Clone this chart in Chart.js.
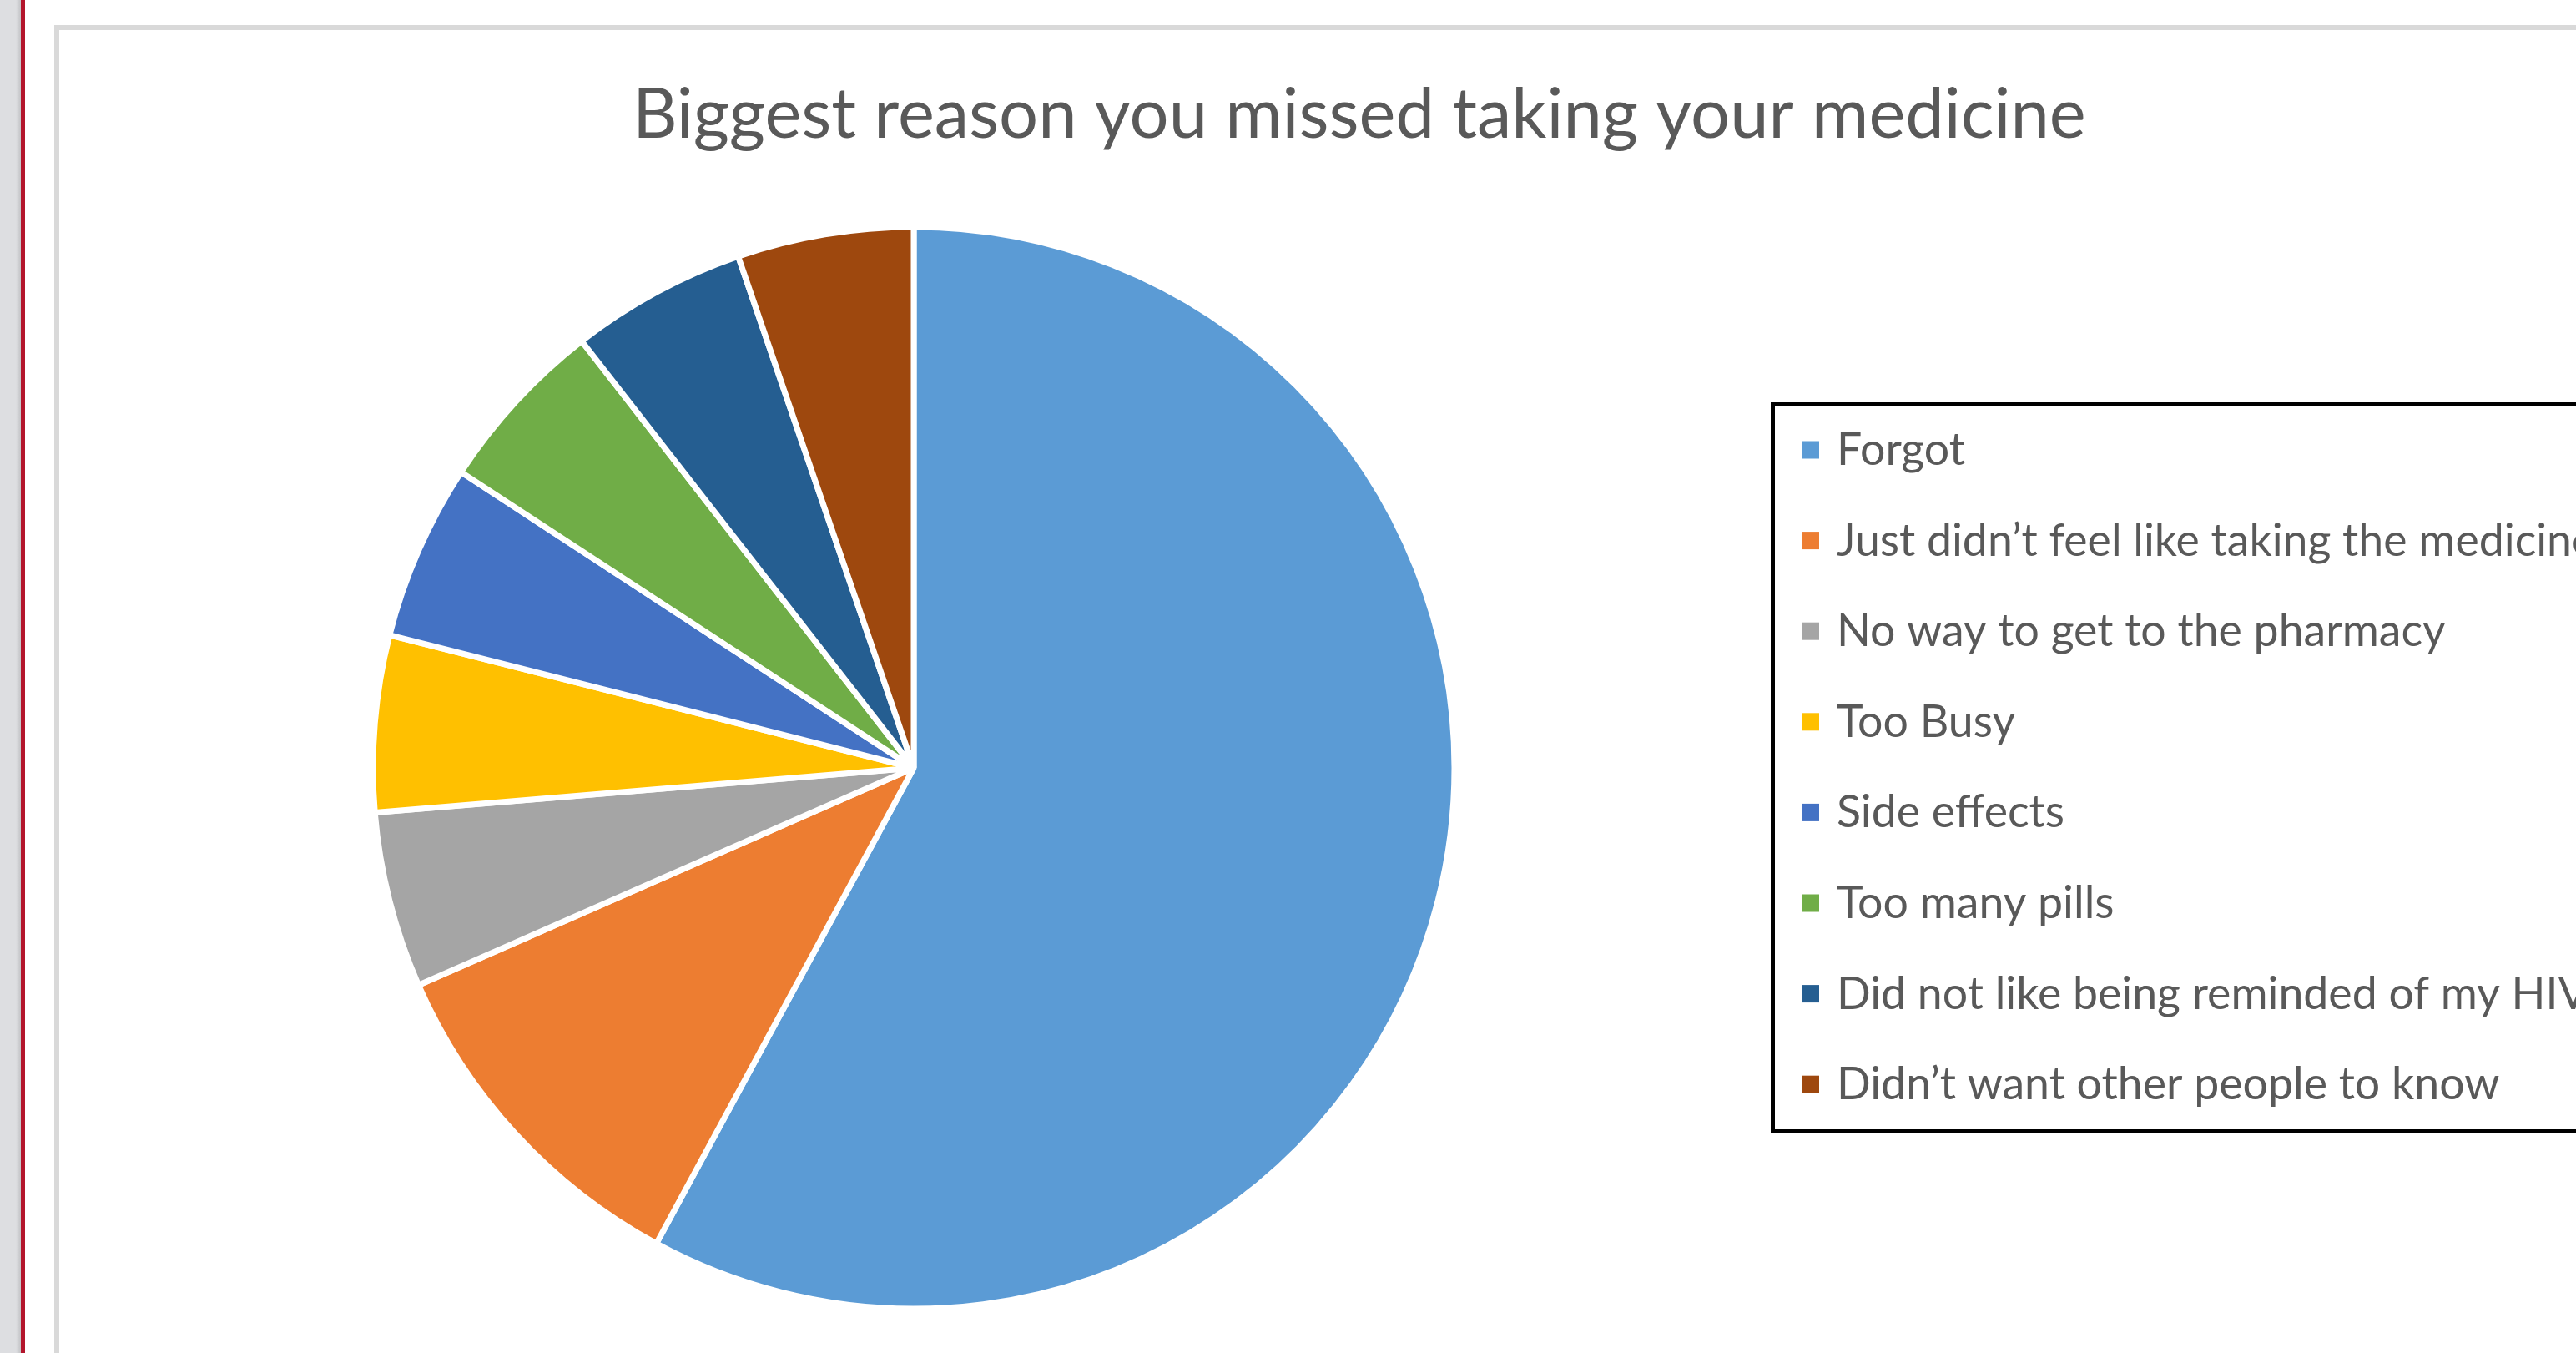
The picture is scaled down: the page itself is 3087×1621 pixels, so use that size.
<!DOCTYPE html>
<html>
<head>
<meta charset="utf-8">
<script src="https://cdn.jsdelivr.net/npm/chart.js@4.4.1/dist/chart.umd.min.js"></script>
<style>
  html, body { margin: 0; padding: 0; width: 3087px; height: 1621px; overflow: hidden; background: #fff; }
  #faixa { position: absolute; left: 0; top: 0; width: 25px; height: 1621px; background: linear-gradient(to right, #dddee1 0, #dddee1 19px, #c3c4c7 25px); }
  #linha { position: absolute; left: 25px; top: 0; width: 5px; height: 1621px; background: #b3152c; }
  #moldura { position: absolute; left: 65px; top: 30px; width: 3300px; height: 1800px; border: 6px solid #d9d9d9; box-sizing: border-box; }
  #grafico { position: absolute; left: 0; top: 0; }
</style>
</head>
<body>
<div id="faixa"></div>
<div id="linha"></div>
<div id="moldura"></div>
<canvas id="grafico" width="3087" height="1621"></canvas>
<script>
const titulo = "Biggest reason you missed taking your medicine";
const motivos = [
  "Forgot",
  "Just didn’t feel like taking the medicine",
  "No way to get to the pharmacy",
  "Too Busy",
  "Side effects",
  "Too many pills",
  "Did not like being reminded of my HIV",
  "Didn’t want other people to know"
];
const respostas = [11, 2, 1, 1, 1, 1, 1, 1];
const cores = ["#5B9BD5", "#ED7D31", "#A5A5A5", "#FFC000", "#4472C4", "#70AD47", "#255E91", "#9E480E"];

const fonte = "Lato, 'Open Sans', sans-serif";
const corTexto = "#595959";

// ajusta o tamanho da fonte para a largura medida na imagem
function tamanhoPara(ctx, texto, largura) {
  ctx.font = `100px ${fonte}`;
  return 100 * largura / ctx.measureText(texto).width;
}

const tituloELegenda = {
  id: "tituloELegenda",
  afterDraw(chart) {
    const ctx = chart.ctx;
    ctx.save();
    ctx.fillStyle = corTexto;
    ctx.textBaseline = "alphabetic";
    ctx.textAlign = "left";

    const t = tamanhoPara(ctx, titulo, 1742);
    ctx.font = `${t}px ${fonte}`;
    ctx.fillText(titulo, 758, 165);

    // caixa da legenda
    ctx.strokeStyle = "#000";
    ctx.lineWidth = 5;
    ctx.strokeRect(2124.5, 484.5, 1200, 871);

    const s = tamanhoPara(ctx, motivos[2], 730);
    ctx.font = `${s}px ${fonte}`;
    const cor = chart.data.datasets[0].backgroundColor;
    chart.data.labels.forEach((m, i) => {
      const base = 557 + i * 108.6;
      ctx.fillStyle = cor[i];
      ctx.fillRect(2159, base - 28.5, 21, 21);
      ctx.fillStyle = corTexto;
      ctx.fillText(m, 2201, base);
    });
    ctx.restore();
  }
};

const grafico = new Chart(document.getElementById("grafico"), {
  type: "pie",
  data: {
    labels: motivos,
    datasets: [{
      data: respostas,
      backgroundColor: cores,
      borderColor: "#fff",
      borderWidth: 7
    }]
  },
  options: {
    responsive: false,
    animation: false,
    radius: 648,
    layout: { padding: { left: 435, right: 1332, top: 260, bottom: 41 } },
    plugins: {
      legend: { display: false },
      title: { display: false },
      tooltip: { enabled: false }
    }
  },
  plugins: [tituloELegenda]
});
</script>
</body>
</html>
